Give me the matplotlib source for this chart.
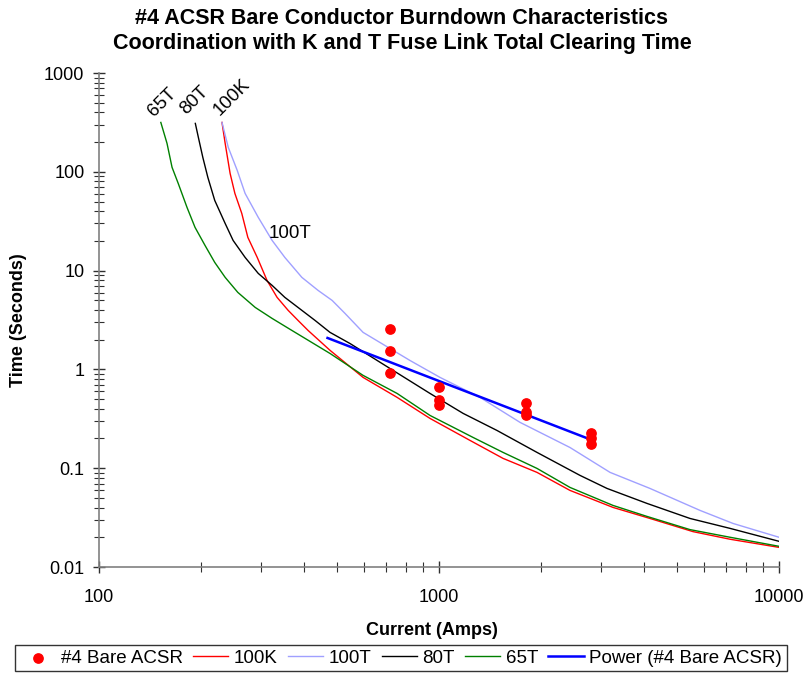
import numpy as np
import matplotlib
matplotlib.use("Agg")
import matplotlib.pyplot as plt
from matplotlib.ticker import LogLocator, NullFormatter, FixedLocator, FixedFormatter

plt.rcParams['font.family'] = ['Liberation Sans', 'DejaVu Sans']

# measured burndown points for #4 bare ACSR
acsr_amps = [720, 720, 720, 1000, 1000, 1000, 1800, 1800, 1800, 2800, 2800, 2800]
acsr_secs = [2.54, 1.52, 0.91, 0.67, 0.485, 0.44, 0.46, 0.367, 0.343, 0.225, 0.2, 0.174]

# fuse total clearing curves
k100_amps = [230, 235, 243, 251, 263, 274, 292, 312, 334, 360, 385, 412, 478, 598, 753,
             941, 1234, 1543, 1942, 2428, 3249, 4174, 5587, 7177, 10000]
k100_secs = [316, 194, 96.3, 60.4, 37.9, 21.7, 13.6, 7.96, 5.36, 3.96, 3.13, 2.48, 1.56, 0.83, 0.521,
             0.319, 0.191, 0.1257, 0.0907, 0.0596, 0.0401, 0.031, 0.0228, 0.0191, 0.0158]

t100_amps = [230, 240, 255, 269, 294, 323, 352, 395, 441, 485, 529, 598, 822, 1007, 1320,
             1731, 2428, 3185, 4174, 5857, 7323, 10000]
t100_secs = [316, 176.6, 103.3, 60.4, 34.6, 20.2, 13.6, 8.54, 6.30, 4.99, 3.69, 2.37, 1.23, 0.83, 0.521,
             0.291, 0.162, 0.0907, 0.0624, 0.0374, 0.0276, 0.0200]

t80_amps = [192, 196, 202, 209, 219, 235, 248, 269, 294, 323, 352, 395, 432, 478, 547, 671,
            941, 1177, 1481, 1942, 2598, 3120, 4091, 5473, 7177, 10000]
t80_secs = [309, 223, 140, 87.8, 51.3, 30.0, 20.2, 13.6, 9.37, 7.08, 5.36, 3.96, 3.13, 2.37, 1.83, 1.18,
            0.571, 0.359, 0.241, 0.1445, 0.0846, 0.0624, 0.044, 0.031, 0.0246, 0.0182]

t65_amps = [152, 158.5, 164, 171, 181.5, 191.6, 205, 219, 235, 256, 288, 323, 365, 478, 598,
            753, 941, 1259, 1543, 1942, 2428, 3249, 4091, 5473, 7177, 10000]
t65_secs = [316, 194, 111, 76.3, 43.6, 27.4, 18.0, 12.1, 8.54, 6.02, 4.24, 3.28, 2.54, 1.45, 0.87,
            0.571, 0.342, 0.205, 0.1445, 0.0995, 0.0639, 0.042, 0.0325, 0.0239, 0.0200, 0.0162]

# power trendline through the ACSR points, forecast back to 470 A
b, a = np.polyfit(np.log10(acsr_amps), np.log10(acsr_secs), 1)
fit_amps = np.array([470, 2800])
fit_secs = 10 ** a * fit_amps ** b

fig = plt.figure(figsize=(8.04, 6.75), dpi=100)
ax = fig.add_axes([99 / 804, 1 - 567 / 675, 680 / 804, 494 / 675])

ax.plot(k100_amps, k100_secs, color='#ff0000', lw=1.0, label='100K')
ax.plot(t100_amps, t100_secs, color='#a0a0ff', lw=1.0, label='100T')
ax.plot(t80_amps, t80_secs, color='black', lw=1.0, label='80T')
ax.plot(t65_amps, t65_secs, color='#008000', lw=1.0, label='65T')
ax.plot(fit_amps, fit_secs, color='#0000ff', lw=1.8, label='Power (#4 Bare ACSR)')
ax.scatter(acsr_amps, acsr_secs, s=45, color='#ff0000', zorder=5, label='#4 Bare ACSR')

ax.set_xscale('log')
ax.set_yscale('log')
ax.set_xlim(100, 10000)
ax.set_ylim(0.01, 1000)

ax.xaxis.set_major_locator(FixedLocator([100, 1000, 10000]))
ax.xaxis.set_major_formatter(FixedFormatter(['100', '1000', '10000']))
ax.yaxis.set_major_locator(FixedLocator([0.01, 0.1, 1, 10, 100, 1000]))
ax.yaxis.set_major_formatter(FixedFormatter(['0.01', '0.1', '1', '10', '100', '1000']))
ax.xaxis.set_minor_locator(LogLocator(base=10, subs=np.arange(2, 10)))
ax.yaxis.set_minor_locator(LogLocator(base=10, subs=np.arange(2, 10)))
ax.xaxis.set_minor_formatter(NullFormatter())
ax.yaxis.set_minor_formatter(NullFormatter())

for s in ['top', 'right']:
    ax.spines[s].set_visible(False)
for s in ['left', 'bottom']:
    ax.spines[s].set_color('#808080')
    ax.spines[s].set_linewidth(1.2)

ax.tick_params(axis='both', which='major', direction='inout', length=9, width=1.0,
               color='#303030', labelsize=13)
ax.tick_params(axis='both', which='minor', direction='inout', length=7, width=0.8,
               color='#303030')
ax.tick_params(axis='y', which='major', pad=6)
ax.tick_params(axis='x', which='major', pad=11)

ax.set_xlabel('Current (Amps)', fontsize=13, fontweight='bold', labelpad=10)
ax.set_ylabel('Time (Seconds)', fontsize=13, fontweight='bold', labelpad=12)
ax.xaxis.set_label_coords((432 - 99) / 680, -(622 - 567) / 494)

fig.text(0.5, 1 - 18 / 675, '#4 ACSR Bare Conductor Burndown Characteristics',
         ha='center', va='center', fontsize=15.5, fontweight='bold')
fig.text(0.5, 1 - 43 / 675, 'Coordination with K and T Fuse Link Total Clearing Time',
         ha='center', va='center', fontsize=15.5, fontweight='bold')

# curve labels
ax.text(154, 508, '65T', rotation=45, ha='center', va='center', fontsize=13.5)
ax.text(191, 533, '80T', rotation=45, ha='center', va='center', fontsize=13.5)
ax.text(246, 571, '100K', rotation=45, ha='center', va='center', fontsize=13.5)
ax.text(365, 24, '100T', ha='center', va='center', fontsize=13.5)

handles, labels = ax.get_legend_handles_labels()
order = [5, 0, 1, 2, 3, 4]
leg = fig.legend([handles[i] for i in order], [labels[i] for i in order],
                 loc='center', bbox_to_anchor=(401 / 804, 1 - 658 / 675), ncol=6,
                 fontsize=13.5, frameon=True, fancybox=False, edgecolor='black',
                 handlelength=1.87, handletextpad=0.3, columnspacing=0.55,
                 borderpad=0.25, borderaxespad=0, scatterpoints=1)
leg.get_frame().set_linewidth(1.0)

fig.savefig('out.png', dpi=100)
